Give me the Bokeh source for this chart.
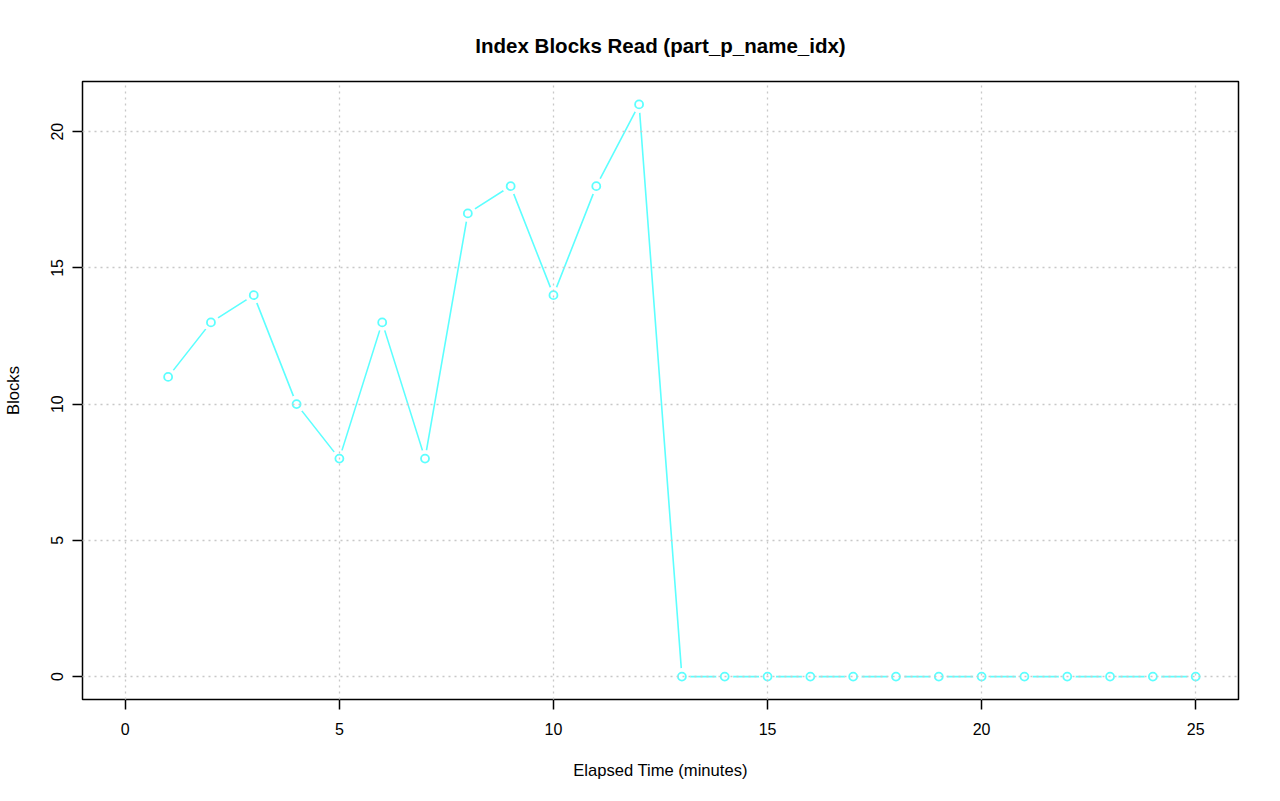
from bokeh.plotting import figure
from bokeh.embed import file_html
from bokeh.resources import INLINE
from bokeh.models import Range1d, FixedTicker

minutes = list(range(1, 26))
blocks = [11, 13, 14, 10, 8, 13, 8, 17, 18, 14, 18, 21,
          0, 0, 0, 0, 0, 0, 0, 0, 0, 0, 0, 0, 0]
x_ticks = [0, 5, 10, 15, 20, 25]
y_ticks = [0, 5, 10, 15, 20]

FONT = "Liberation Sans"
CYAN = "#5CFFFF"

p = figure(width=1272, height=793, output_backend="svg", toolbar_location=None,
           x_range=Range1d(-1.0, 26.0), y_range=Range1d(-0.84, 21.84),
           min_border_left=79, min_border_right=34, min_border_top=81,
           min_border_bottom=94, title="Index Blocks Read (part_p_name_idx)")

p.title.align = "center"
p.title.text_font = FONT
p.title.text_font_size = "20.5px"
p.title.text_font_style = "bold"
p.title.text_color = "black"
p.title.offset = 0
p.title.standoff = 50

p.outline_line_color = "black"
p.outline_line_width = 1.5

for ax in (p.xaxis[0], p.yaxis[0]):
    ax.axis_line_color = None
    ax.major_tick_out = 10
    ax.major_tick_in = 0
    ax.major_tick_line_width = 1.5
    ax.minor_tick_line_color = None
    ax.major_label_text_font = FONT
    ax.major_label_text_font_size = "16px"
    ax.major_label_text_color = "black"
    ax.axis_label_text_font = FONT
    ax.axis_label_text_font_size = "16.6px"
    ax.axis_label_text_font_style = "normal"
    ax.axis_label_text_color = "black"

p.xaxis.ticker = FixedTicker(ticks=x_ticks)
p.yaxis.ticker = FixedTicker(ticks=y_ticks)
p.xaxis.axis_label = "Elapsed Time (minutes)"
p.yaxis.axis_label = "Blocks"
p.xaxis.major_label_standoff = 13
p.yaxis.major_label_standoff = 9
p.xaxis.axis_label_standoff = 23
p.yaxis.axis_label_standoff = 26
p.yaxis.major_label_orientation = "vertical"

for g in (p.xgrid[0], p.ygrid[0]):
    g.grid_line_color = "#C8C8C8"
    g.grid_line_dash = "2 4"
    g.grid_line_width = 1.3
    g.level = "overlay"

p.line(minutes, blocks, line_color=CYAN, line_width=1.6)
p.scatter(minutes, blocks, size=17, fill_color="white", line_color=None)
p.scatter(minutes, blocks, size=8, fill_color="white", line_color=CYAN, line_width=1.8)

open("out.html", "w").write(file_html(p, INLINE))
